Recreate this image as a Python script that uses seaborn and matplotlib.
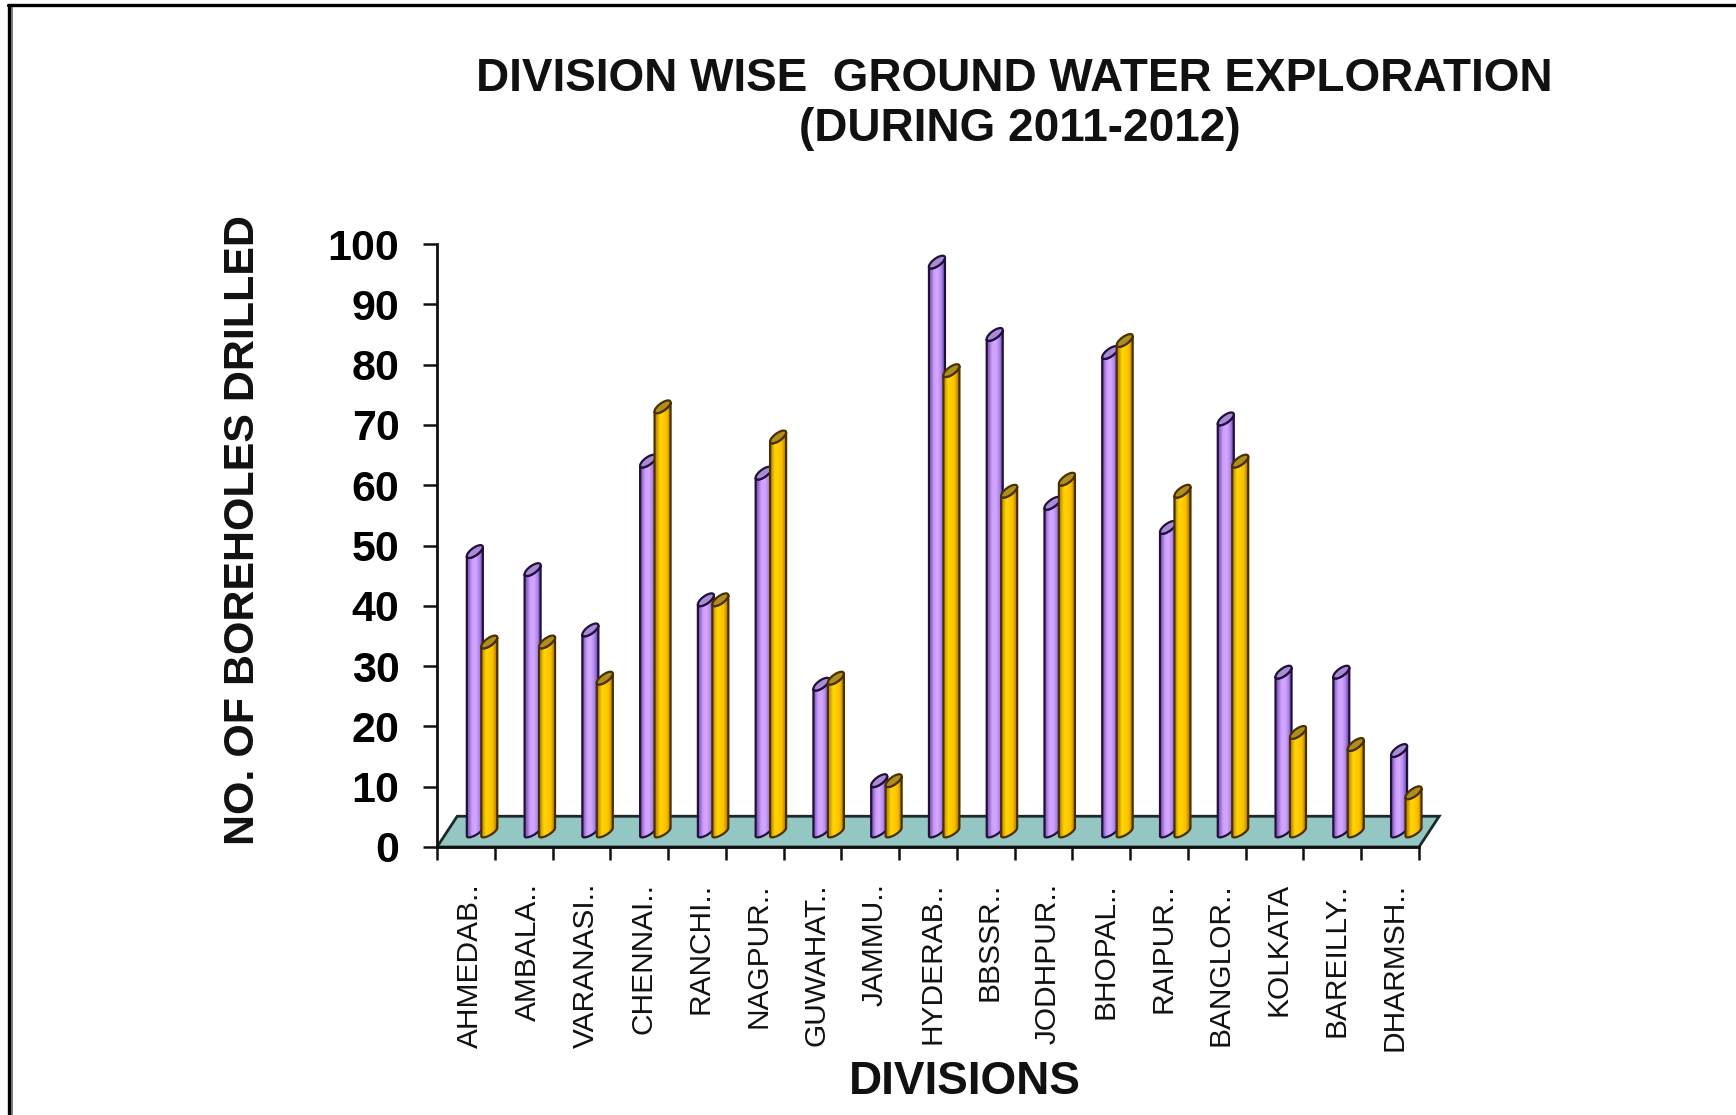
import numpy as np
import pandas as pd
import matplotlib
matplotlib.use("Agg")
import matplotlib.pyplot as plt
from matplotlib.lines import Line2D
from matplotlib.patches import Polygon
import seaborn as sns

divisions = ["AHMEDAB..", "AMBALA..", "VARANASI..", "CHENNAI..", "RANCHI..", "NAGPUR..",
             "GUWAHAT..", "JAMMU..", "HYDERAB..", "BBSSR..", "JODHPUR..", "BHOPAL..",
             "RAIPUR..", "BANGLOR..", "KOLKATA", "BAREILLY..", "DHARMSH.."]
series_a = [49, 46, 36, 64, 41, 62, 27, 11, 97, 85, 57, 82, 53, 71, 29, 29, 16]
series_b = [34, 34, 28, 73, 41, 68, 28, 11, 79, 59, 61, 84, 59, 64, 19, 17, 9]
y_ticks = list(range(0, 101, 10))

W, H = 1736, 1115
sns.set_theme(style="white")
plt.rcParams["font.family"] = ["Liberation Sans", "DejaVu Sans"]

fig = plt.figure(figsize=(W / 100, H / 100), dpi=100, facecolor="white")
ax = fig.add_axes([437 / W, 1 - 847 / H, 982 / W, 603 / H])

frame = pd.DataFrame({
    "division": divisions * 2,
    "boreholes": series_a + series_b,
    "series": ["a"] * len(divisions) + ["b"] * len(divisions),
})
sns.barplot(data=frame, x="division", y="boreholes", hue="series", width=0.5,
            palette={"a": "#CC99FF", "b": "#FFCC00"}, legend=False, ax=ax)

# Horizontal gradients that give each column a cylindrical look
ramp_a = np.array([[0.55, 0.38, 0.75], [0.80, 0.62, 1.0], [0.83, 0.66, 1.0], [0.72, 0.55, 0.95], [0.45, 0.32, 0.70]])
ramp_b = np.array([[0.80, 0.58, 0.0], [1.0, 0.84, 0.0], [1.0, 0.80, 0.0], [0.98, 0.74, 0.0], [0.70, 0.50, 0.0]])

base = 2.5        # column foot, sitting on the floor
shift = 0.28      # columns stand in the middle of the floor depth
width = 0.277
tilt = 0.75       # cap shear in value units
minor = 0.75
t = np.linspace(0, 2 * np.pi, 60)

for i, patch in enumerate(ax.patches):
    first = i < len(divisions)
    cx = patch.get_x() + patch.get_width() / 2 + shift
    top = patch.get_height()
    patch.set_visible(False)
    z = 3 + i * 0.01 if first else 4 + i * 0.01
    rx = width / 2
    line = "#20103A" if first else "#4A3000"

    # body outline: front half of the head, then the rounded foot
    front = np.linspace(0, np.pi, 30)
    head = np.c_[cx + rx * np.cos(front), top + tilt * np.cos(front) - minor * np.sin(front)]
    under = np.linspace(np.pi, 2 * np.pi, 30)
    foot = np.c_[cx + rx * np.cos(under), base + 0.9 * tilt * np.cos(under) - 0.6 * np.abs(np.sin(under))]
    body_xy = np.r_[head, foot]

    ax.add_patch(Polygon(body_xy, closed=True, facecolor="none", edgecolor=line,
                         linewidth=1.6, zorder=z + 0.002, clip_on=False))
    ramp = (ramp_a if first else ramp_b)[np.newaxis, :, :]
    im = ax.imshow(ramp, extent=(cx - rx, cx + rx, base - 2, top + 2), aspect="auto",
                   interpolation="bilinear", zorder=z)
    im.set_clip_path(Polygon(body_xy, closed=True, transform=ax.transData))
    im.set_clip_box(fig.bbox)

    # elliptical opening at the column head
    ax.add_patch(Polygon(np.c_[cx + rx * np.cos(t), top + tilt * np.cos(t) + minor * np.sin(t)], closed=True,
                         facecolor="#A98BD6" if first else "#B08E1E", edgecolor=line,
                         linewidth=1.6, zorder=z + 0.004, clip_on=False))

n = len(divisions)
ax.set_xlim(-0.5, n - 0.5)
ax.set_ylim(0, 100)

# Floor of the pseudo-3D plot
ax.add_patch(Polygon([(-0.5, 0), (n - 0.5, 0), (n - 0.5 + 0.35, 5.1), (-0.5 + 0.35, 5.1)],
                     closed=True, facecolor="#94C6C4", edgecolor="#1A2A2A", linewidth=2,
                     zorder=1, clip_on=False))

for side in ("top", "right"):
    ax.spines[side].set_visible(False)
for side in ("left", "bottom"):
    ax.spines[side].set_color("#101010")
    ax.spines[side].set_linewidth(2)
    ax.spines[side].set_zorder(2)

ax.set_yticks(y_ticks)
ax.set_yticklabels([str(v) for v in y_ticks], fontsize=31, fontweight="bold", color="black")
ax.tick_params(axis="y", direction="out", length=10, width=1.8, color="#101010", pad=17, left=True)

ax.set_xticks(np.arange(-0.5, n, 1.0))
ax.set_xticklabels([])
ax.tick_params(axis="x", which="major", direction="out", length=9, width=1.8, color="#101010", bottom=True)
ax.set_xticks(np.arange(n) + 0.07, minor=True)
ax.set_xticklabels(divisions, minor=True, rotation=90, fontsize=21.5, color="#111111", va="top", ha="center")
ax.tick_params(axis="x", which="minor", length=0, pad=26, bottom=False)
ax.set_xlabel("")
ax.set_ylabel("")

fig.text(1014 / W, 1 - 79 / H, "DIVISION WISE  GROUND WATER EXPLORATION", fontsize=33, fontweight="bold",
         ha="center", va="center", color="#111111")
fig.text(1020 / W, 1 - 129 / H, "(DURING 2011-2012)", fontsize=33, fontweight="bold",
         ha="center", va="center", color="#111111")
fig.text(965 / W, 1 - 1082 / H, "DIVISIONS", fontsize=33, fontweight="bold",
         ha="center", va="center", color="#111111")
fig.text(243 / W, 1 - 530 / H, "NO. OF BOREHOLES DRILLED", fontsize=31, fontweight="bold",
         rotation=90, ha="center", va="center", color="#111111")

# Outer picture frame
fig.add_artist(Line2D([8.5 / W, 8.5 / W], [0, 1 - 5 / H], color="black", linewidth=2.4))
fig.add_artist(Line2D([11.5 / W, 11.5 / W], [0, 1 - 6 / H], color="#777777", linewidth=1.4))
fig.add_artist(Line2D([8 / W, 1], [1 - 5 / H, 1 - 5 / H], color="black", linewidth=2.4))

fig.savefig("out.png", dpi=100, facecolor="white")
